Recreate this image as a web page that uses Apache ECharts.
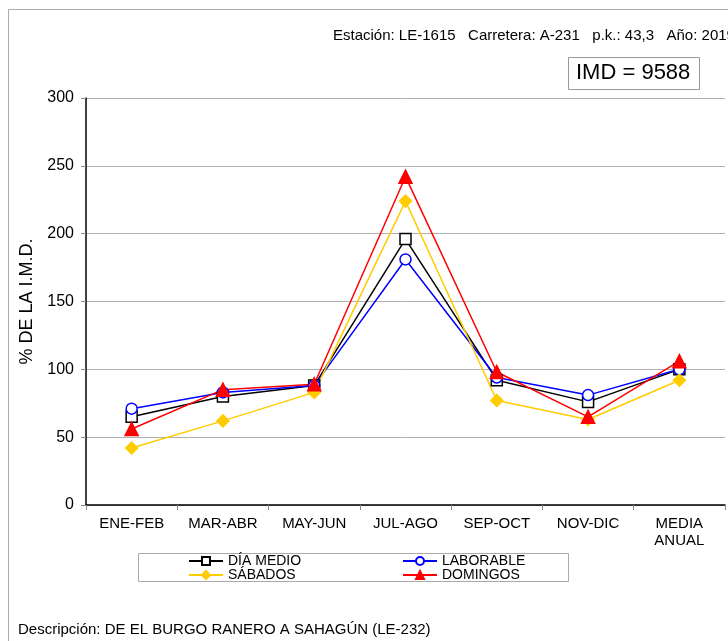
<!DOCTYPE html>
<html>
<head>
<meta charset="utf-8">
<script src="https://cdn.jsdelivr.net/npm/echarts@6/dist/echarts.min.js"></script>
<style>
html,body{margin:0;padding:0;background:#fff;}
#chart{width:728px;height:641px;}
</style>
</head>
<body>
<div id="chart"></div>
<script>
var categories = ['ENE-FEB', 'MAR-ABR', 'MAY-JUN', 'JUL-AGO', 'SEP-OCT', 'NOV-DIC', 'MEDIA\nANUAL'];
var diaMedio   = [65, 80, 88, 196, 92, 76, 100];
var laborable  = [71, 83, 88, 181, 94, 81, 100];
var sabados    = [42, 62, 83, 224, 77, 63, 92];
var domingos   = [56, 85, 89, 242, 98, 65, 106];
var yTicks = [0, 50, 100, 150, 200, 250, 300];

var FONT = '"Liberation Sans", Arial, sans-serif';
var chart = echarts.init(document.getElementById('chart'), null, {renderer: 'canvas'});

function ser(name, data, color, symbol, size, fill) {
  return {
    name: name, type: 'line', data: data,
    symbol: symbol, symbolSize: size, showSymbol: true,
    lineStyle: {color: color, width: 1.5},
    itemStyle: {color: fill, borderColor: color, borderWidth: 1.5},
    emphasis: {disabled: true},
    animation: false
  };
}

var legendBase = {
  itemWidth: 34, itemHeight: 10, itemGap: 5,
  textStyle: {fontFamily: FONT, fontSize: 14, color: '#000', padding: [0,0,0,0]},
  selectedMode: false, padding: 0
};
function lg(name, left, top) {
  return Object.assign({}, legendBase, {data: [name], left: left, top: top});
}

chart.setOption({
  backgroundColor: '#fff',
  animation: false,
  textStyle: {fontFamily: FONT},
  grid: {left: 86, top: 98, right: 3, bottom: 136, containLabel: false},
  graphic: [
    {type: 'rect', shape: {x: 8.5, y: 9.5, width: 740, height: 660}, style: {fill: 'none', stroke: '#aaa', lineWidth: 1}, z: -1},
    {type: 'text', left: 333, top: 28, style: {text: 'Estación: LE-1615   Carretera: A-231   p.k.: 43,3   Año: 2019', font: '15px ' + FONT, fill: '#000'}},
    {type: 'rect', shape: {x: 568.5, y: 57.5, width: 131, height: 32}, style: {fill: '#fff', stroke: '#999', lineWidth: 1}},
    {type: 'text', left: 576, top: 62, style: {text: 'IMD = 9588', font: '22px ' + FONT, fill: '#000'}},
    {type: 'rect', shape: {x: 138.5, y: 553.5, width: 430, height: 28}, style: {fill: '#fff', stroke: '#aaa', lineWidth: 1}},
    {type: 'text', left: 18, top: 622, style: {text: 'Descripción: DE EL BURGO RANERO A SAHAGÚN (LE-232)', font: '15px ' + FONT, fill: '#000'}}
  ],
  legend: [
    lg('DÍA MEDIO', 188, 554),
    lg('LABORABLE', 402, 554),
    lg('SÁBADOS', 188, 568),
    lg('DOMINGOS', 402, 568)
  ],
  xAxis: {
    type: 'category', data: categories, boundaryGap: true,
    axisLine: {lineStyle: {color: '#000', width: 1.5}},
    axisTick: {show: true, alignWithLabel: false, length: 5, lineStyle: {color: '#888'}},
    axisLabel: {color: '#000', fontSize: 15, fontFamily: FONT, margin: 10, lineHeight: 17, interval: 0}
  },
  yAxis: {
    type: 'value', min: 0, max: 300, interval: 50,
    name: '% DE LA I.M.D.', nameLocation: 'middle', nameGap: 48, nameRotate: 90,
    nameTextStyle: {color: '#000', fontSize: 18, fontFamily: FONT},
    axisLine: {show: true, lineStyle: {color: '#000', width: 1.5}},
    axisTick: {show: true, length: 5, lineStyle: {color: '#888'}},
    axisLabel: {color: '#000', fontSize: 16, fontFamily: FONT, margin: 12,
      formatter: function (v) { return yTicks.indexOf(v) >= 0 ? String(v) : ''; }},
    splitLine: {show: true, lineStyle: {color: '#b0b0b0', width: 1}}
  },
  series: [
    ser('DÍA MEDIO', diaMedio, '#000000', 'rect', 11, '#ffffff'),
    ser('LABORABLE', laborable, '#0000ff', 'circle', 11, '#ffffff'),
    ser('SÁBADOS', sabados, '#ffcc00', 'diamond', 12, '#ffcc00'),
    ser('DOMINGOS', domingos, '#ff0000', 'triangle', 13, '#ff0000')
  ]
});
</script>
</body>
</html>
